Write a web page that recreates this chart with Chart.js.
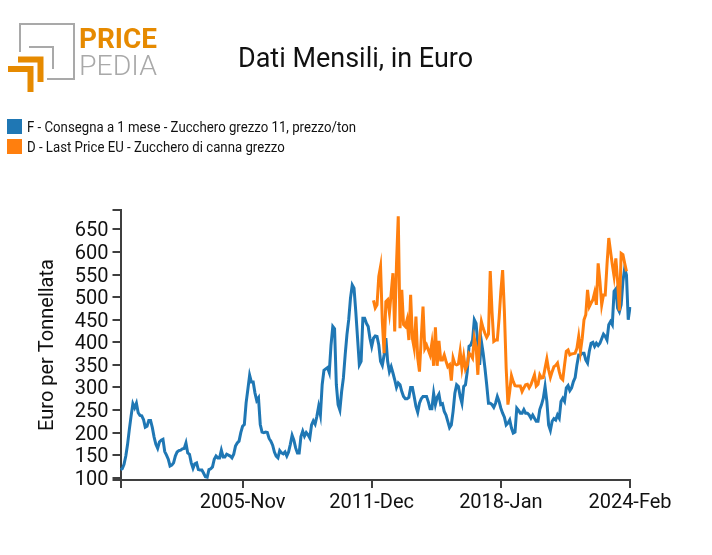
<!DOCTYPE html>
<html>
<head>
<meta charset="utf-8">
<title>Dati Mensili, in Euro</title>
<script src="https://cdn.jsdelivr.net/npm/chart.js@4"></script>
<style>
    html, body { margin: 0; padding: 0; background: #fff; }
    body { width: 712px; height: 555px; position: relative; overflow: hidden; font-family: Roboto, sans-serif; color: #111; }
    canvas { position: absolute; left: 0; top: 0; }
    #logo { position: absolute; left: 0; top: 0; }
    #title { position: absolute; left: 238px; top: 41px; font-size: 28px; line-height: 34px; white-space: nowrap; transform-origin: 0 50%; transform: scaleX(0.963); }
    .key { position: absolute; left: 27px; font-size: 14px; line-height: 16px; white-space: nowrap; transform-origin: 0 50%; transform: scaleX(0.943); }
    .swatch { position: absolute; left: 7px; width: 15px; height: 15px; }
</style>
</head>
<body>
<canvas id="chart" width="712" height="555"></canvas>

<svg id="logo" width="170" height="100">
    <path d="M20 52V24H74V79H47" fill="none" stroke="#a9a9a9" stroke-width="2"/>
    <path d="M29 47H53V69" fill="none" stroke="#a9a9a9" stroke-width="2"/>
    <path d="M18 59.500H40.500V82" fill="none" stroke="#e68a00" stroke-width="6"/>
    <path d="M8 69H30.500V92" fill="none" stroke="#e68a00" stroke-width="6"/>
    <text x="79" y="48" font-size="28" font-weight="700" fill="#e68a00" textLength="78" lengthAdjust="spacingAndGlyphs">PRICE</text>
    <text x="79" y="75" font-size="28" font-weight="300" fill="#a9a9a9" textLength="78" lengthAdjust="spacingAndGlyphs">PEDIA</text>
</svg>

<div id="title">Dati Mensili, in Euro</div>
<div class="swatch" style="top:119px;background:#1f77b4"></div>
<div class="key" style="top:119px">F - Consegna a 1 mese - Zucchero grezzo 11, prezzo/ton</div>
<div class="swatch" style="top:139px;background:#ff7f0e"></div>
<div class="key" style="top:139px">D - Last Price EU - Zucchero di canna grezzo</div>

<script>
const FIRST_YEAR = 2000;
const FIRST_MONTH = 1; // Feb
const MONTH_NAMES = ['Jan', 'Feb', 'Mar', 'Apr', 'May', 'Jun', 'Jul', 'Aug', 'Sep', 'Oct', 'Nov', 'Dec'];

const xTickLabels = ['2005-Nov', '2011-Dec', '2018-Jan', '2024-Feb'];
const yTickValues = [100, 150, 200, 250, 300, 350, 400, 450, 500, 550, 600, 650];

// monthly, 2000-Feb to 2024-Feb
const futuresValues = [
    118, 120, 130, 148, 174, 207, 237, 264, 255, 265, 244, 238,
    237, 229, 212, 214, 227, 227, 211, 190, 174, 165, 179, 183,
    185, 158, 150, 141, 126, 128, 133, 148, 157, 160, 161, 164,
    165, 177, 155, 152, 133, 121, 131, 133, 118, 117, 117, 110,
    102, 101, 118, 120, 124, 141, 148, 144, 144, 161, 146, 146,
    152, 150, 148, 144, 152, 170, 177, 181, 200, 214, 218, 266,
    296, 327, 312, 312, 288, 271, 277, 218, 201, 200, 201, 200,
    187, 181, 172, 157, 148, 144, 160, 155, 153, 157, 148, 157,
    174, 194, 183, 166, 155, 155, 191, 203, 192, 200, 195, 188,
    217, 226, 219, 236, 258, 239, 306, 338, 341, 344, 333, 394,
    435, 430, 306, 262, 250, 291, 321, 372, 417, 450, 498, 527,
    520, 468, 409, 350, 358, 453, 453, 442, 435, 409, 391, 409,
    414, 413, 394, 358, 349, 372, 409, 358, 335, 346, 332, 317,
    300, 310, 306, 291, 280, 275, 275, 278, 300, 300, 280, 258,
    245, 265, 275, 280, 280, 280, 268, 253, 253, 287, 262, 278,
    285, 262, 264, 247, 239, 225, 211, 217, 247, 287, 306, 302,
    280, 265, 302, 306, 335, 391, 394, 405, 450, 442, 394, 350,
    402, 376, 343, 306, 265, 265, 262, 256, 265, 280, 269, 254,
    243, 234, 217, 221, 228, 210, 199, 201, 254, 249, 243, 243,
    251, 243, 243, 239, 232, 239, 232, 225, 225, 251, 262, 276,
    302, 269, 217, 205, 225, 231, 228, 239, 232, 269, 276, 269,
    299, 304, 293, 299, 313, 322, 350, 372, 372, 376, 376, 361,
    354, 380, 398, 400, 391, 398, 393, 398, 408, 418, 413, 405,
    439, 446, 439, 513, 518, 476, 468, 483, 535, 564, 549, 450,
    478,
];

// starts 2012-Jan, ends 2023-Dec
const lastPriceStart = 143;
const lastPriceValues = [
    493, 476, 483, 546, 568, 446, 376, 490, 494, 465, 509, 553,
    424, 572, 679, 431, 516, 439, 435, 450, 405, 505, 409, 387,
    457, 365, 335, 409, 479, 386, 394, 383, 372, 398, 348, 433,
    348, 403, 361, 361, 372, 358, 346, 350, 315, 365, 352, 350,
    352, 380, 343, 369, 341, 350, 376, 372, 365, 409, 391, 328,
    409, 446, 431, 420, 411, 418, 558, 468, 402, 405, 405, 453,
    513, 560, 468, 343, 262, 291, 326, 313, 304, 303, 303, 303,
    291, 299, 306, 307, 299, 306, 317, 328, 303, 307, 328, 321,
    322, 343, 363, 339, 322, 335, 346, 349, 354, 335, 321, 317,
    350, 380, 383, 372, 374, 375, 376, 387, 413, 380, 409, 450,
    461, 516, 479, 487, 494, 510, 483, 575, 535, 483, 505, 505,
    572, 631, 601, 572, 546, 586, 535, 470, 597, 594, 575, 557,
];

const months = futuresValues.map((_, i) => {
    const m = FIRST_MONTH + i;
    return (FIRST_YEAR + Math.floor(m / 12)) + '-' + MONTH_NAMES[m % 12];
});

const lastPriceSeries = months.map((_, i) => {
    const v = lastPriceValues[i - lastPriceStart];
    return v === undefined ? null : v;
});

const AXIS_COLOR = '#3f3f3f';
const TEXT_COLOR = '#111';
const Y_MIN = 95;
const Y_MAX = 693;

new Chart(document.getElementById('chart'), {
    type: 'line',
    data: {
        labels: months,
        datasets: [
            {
                label: 'F - Consegna a 1 mese - Zucchero grezzo 11, prezzo/ton',
                data: futuresValues,
                borderColor: '#1f77b4',
                order: 2,
            },
            {
                label: 'D - Last Price EU - Zucchero di canna grezzo',
                data: lastPriceSeries,
                borderColor: '#ff7f0e',
                order: 1,
            },
        ],
    },
    options: {
        responsive: false,
        animation: false,
        devicePixelRatio: 1,
        layout: { padding: { top: 210, left: 36, right: 82, bottom: 0 } },
        elements: {
            point: { radius: 0 },
            line: { borderWidth: 3, tension: 0, fill: false, borderJoinStyle: 'miter', borderCapStyle: 'butt' },
        },
        plugins: { legend: { display: false }, tooltip: { enabled: false } },
        scales: {
            x: {
                grid: { drawOnChartArea: false, color: AXIS_COLOR, lineWidth: 2, tickLength: 8 },
                border: { color: AXIS_COLOR, width: 2 },
                ticks: {
                    autoSkip: false,
                    maxRotation: 0,
                    padding: 3,
                    color: TEXT_COLOR,
                    font: { family: 'Roboto', size: 20 },
                    callback(value) {
                        const label = this.getLabelForValue(value);
                        return xTickLabels.includes(label) ? label : '';
                    },
                },
                afterBuildTicks(scale) {
                    scale.ticks = scale.ticks.filter(t => {
                        const label = months[t.value];
                        return t.value === 0 || xTickLabels.includes(label);
                    });
                },
                afterFit(scale) { scale.height = 75; },
            },
            y: {
                min: Y_MIN,
                max: Y_MAX,
                grid: { drawOnChartArea: false, color: AXIS_COLOR, lineWidth: 2, tickLength: 8 },
                border: { color: AXIS_COLOR, width: 2 },
                title: {
                    display: true,
                    text: 'Euro per Tonnellata',
                    color: TEXT_COLOR,
                    font: { family: 'Roboto', size: 20 },
                    padding: { top: 0, bottom: 0 },
                },
                ticks: {
                    autoSkip: false,
                    padding: 4,
                    labelOffset: 2,
                    color: TEXT_COLOR,
                    font: { family: 'Roboto', size: 20 },
                    callback(value) {
                        return yTickValues.includes(value) ? String(value) : '';
                    },
                },
                afterBuildTicks(scale) {
                    scale.ticks = [Y_MIN, ...yTickValues, Y_MAX].map(value => ({ value }));
                },
                afterFit(scale) { scale.width = 84.5; },
            },
        },
    },
});
</script>
</body>
</html>
